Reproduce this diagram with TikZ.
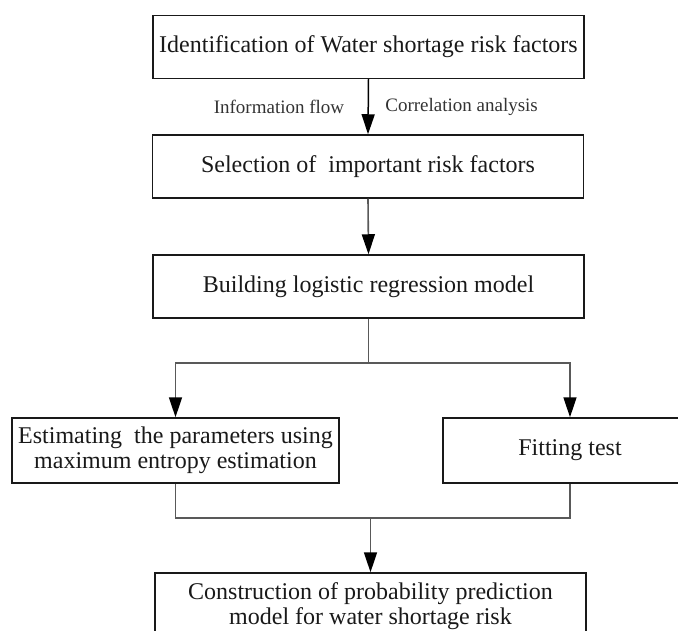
\documentclass[tikz,border=0pt]{standalone}
\usepackage{fontspec}
\setmainfont{Liberation Serif}
\usetikzlibrary{arrows.meta,positioning}

\begin{document}
\begin{tikzpicture}[x=1pt,y=-1pt,>={Triangle[length=20pt,width=13pt,color=black]}]

% page frame
\clip (0,0) rectangle (678,631);

% size of the wide boxes
\def\blkw{431pt}
\def\blkh{63pt}
% styles
\tikzstyle{block} = [
	draw=black!90, line width=1.5pt, rectangle, align=center,
	inner sep=0pt, text=black!90,
	minimum height=\blkh, minimum width=\blkw,
	font=\fontsize{24}{25}\selectfont ];
\tikzstyle{flowtext} = [text=black!80, font=\fontsize{19}{22}\selectfont];
\tikzstyle{link} = [draw=black!65, line width=1.6pt];

\node[block] (ident) at (368.5,47) {Identification of Water shortage risk factors};
\node[block] (select) at (368,166.5) {Selection of \ important risk factors};
\node[block] (build) at (368.5,286.5) {Building logistic regression model};

\node[block, minimum width=327pt, minimum height=65pt] (estim) at (175.5,450.5)
	{Estimating\ \ the parameters using\\maximum entropy estimation};
\node[block, minimum width=254pt, minimum height=65pt] (fit) at (570,450.5) {Fitting test};

\node[block, minimum height=66pt] (final) at (370.5,606)
	{Construction of probability prediction\\model for water shortage risk};

\draw[->,line width=1.5pt] (ident.south) --
	node[flowtext, left=20pt] (info) {Information flow}
	node[flowtext, right=13pt] (corr) {Correlation analysis} (select.north);
\draw[link,->] (select.south) -- (build.north);

\draw[link,->] (build.south) -- ++(0,44) -| (estim.north);
\draw[link,->] (build.south) -- ++(0,44) -| (fit.north);

\draw[link] (estim.south) -- ++(0,34) -| (fit.south);
\coordinate (join) at (370.5,517);
\draw[link,->] (join) -- (final.north);

\end{tikzpicture}
\end{document}
